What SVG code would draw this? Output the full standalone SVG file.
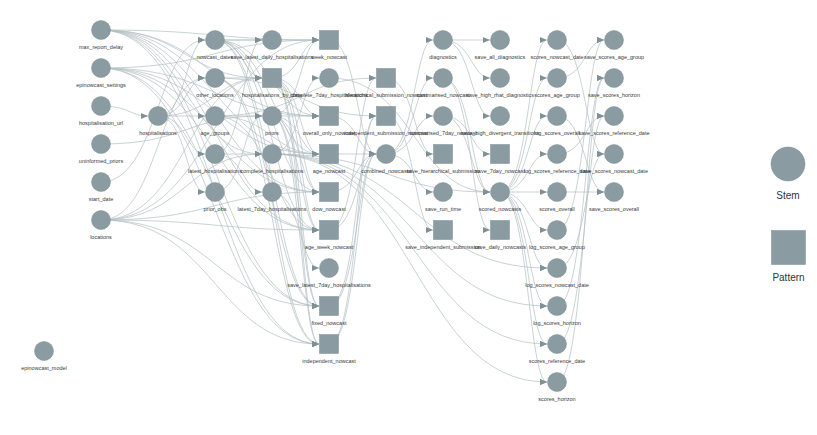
<svg xmlns="http://www.w3.org/2000/svg" width="817" height="435" viewBox="0 0 817 435">
<style>
.e{fill:none;stroke:#b3bec2;stroke-width:0.7;marker-end:url(#ah)}
.n{fill:#8a9ca2;stroke:#7a8c92;stroke-width:0.5}
.t{font-family:"Liberation Sans",Arial,sans-serif;font-size:5.5px;fill:#3a3a3a;text-anchor:middle}
.lt{font-family:"Liberation Sans",Arial,sans-serif;font-size:10px;fill:#333;text-anchor:middle}
</style>
<defs>
<marker id="ah" markerUnits="userSpaceOnUse" markerWidth="7" markerHeight="6" refX="7" refY="3" orient="auto"><path d="M0,0 L7,3 L0,6 z" fill="#7f9196"/></marker>
</defs>
<rect width="817" height="435" fill="#fff"/>
<g id="edges">
<path class="e" d="M101 30C186.5 30 186.5 78 262 78"/>
<path class="e" d="M101 30C186.5 30 186.5 154 262 154"/>
<path class="e" d="M101 30C215 30 215 40 319 40"/>
<path class="e" d="M101 30C215 30 215 116 319 116"/>
<path class="e" d="M101 30C215 30 215 154 319 154"/>
<path class="e" d="M101 30C215 30 215 192 319 192"/>
<path class="e" d="M101 30C215 30 215 230 319 230"/>
<path class="e" d="M101 30C215 30 215 306 319 306"/>
<path class="e" d="M101 30C215 30 215 344 319 344"/>
<path class="e" d="M101 68C215 68 215 40 319 40"/>
<path class="e" d="M101 68C215 68 215 116 319 116"/>
<path class="e" d="M101 68C215 68 215 154 319 154"/>
<path class="e" d="M101 68C215 68 215 192 319 192"/>
<path class="e" d="M101 68C215 68 215 230 319 230"/>
<path class="e" d="M101 68C215 68 215 306 319 306"/>
<path class="e" d="M101 68C215 68 215 344 319 344"/>
<path class="e" d="M101 106C129.5 106 129.5 116 148 116"/>
<path class="e" d="M101 144C186.5 144 186.5 116 262 116"/>
<path class="e" d="M101 182C158 182 158 40 205 40"/>
<path class="e" d="M101 220C158 220 158 78 205 78"/>
<path class="e" d="M101 220C186.5 220 186.5 78 262 78"/>
<path class="e" d="M101 220C186.5 220 186.5 154 262 154"/>
<path class="e" d="M101 220C215 220 215 40 319 40"/>
<path class="e" d="M101 220C215 220 215 192 319 192"/>
<path class="e" d="M101 220C215 220 215 230 319 230"/>
<path class="e" d="M101 220C215 220 215 306 319 306"/>
<path class="e" d="M101 220C215 220 215 344 319 344"/>
<path class="e" d="M158 116C186.5 116 186.5 40 205 40"/>
<path class="e" d="M158 116C186.5 116 186.5 78 205 78"/>
<path class="e" d="M158 116C186.5 116 186.5 116 205 116"/>
<path class="e" d="M158 116C186.5 116 186.5 154 205 154"/>
<path class="e" d="M158 116C186.5 116 186.5 192 205 192"/>
<path class="e" d="M158 116C215 116 215 78 262 78"/>
<path class="e" d="M215 40C243.5 40 243.5 40 262 40"/>
<path class="e" d="M215 40C243.5 40 243.5 78 262 78"/>
<path class="e" d="M215 40C272 40 272 40 319 40"/>
<path class="e" d="M215 40C272 40 272 116 319 116"/>
<path class="e" d="M215 40C272 40 272 154 319 154"/>
<path class="e" d="M215 40C272 40 272 192 319 192"/>
<path class="e" d="M215 40C272 40 272 230 319 230"/>
<path class="e" d="M215 40C272 40 272 306 319 306"/>
<path class="e" d="M215 40C272 40 272 344 319 344"/>
<path class="e" d="M215 78C243.5 78 243.5 78 262 78"/>
<path class="e" d="M215 78C272 78 272 306 319 306"/>
<path class="e" d="M215 78C272 78 272 344 319 344"/>
<path class="e" d="M215 78C300.5 78 300.5 116 376 116"/>
<path class="e" d="M215 116C243.5 116 243.5 116 262 116"/>
<path class="e" d="M215 116C272 116 272 154 319 154"/>
<path class="e" d="M215 116C272 116 272 230 319 230"/>
<path class="e" d="M215 116C300.5 116 300.5 78 376 78"/>
<path class="e" d="M215 154C243.5 154 243.5 40 262 40"/>
<path class="e" d="M215 154C243.5 154 243.5 154 262 154"/>
<path class="e" d="M215 154C243.5 154 243.5 192 262 192"/>
<path class="e" d="M215 192C243.5 192 243.5 116 262 116"/>
<path class="e" d="M272 116C300.5 116 300.5 40 319 40"/>
<path class="e" d="M272 116C300.5 116 300.5 116 319 116"/>
<path class="e" d="M272 116C300.5 116 300.5 154 319 154"/>
<path class="e" d="M272 116C300.5 116 300.5 192 319 192"/>
<path class="e" d="M272 116C300.5 116 300.5 230 319 230"/>
<path class="e" d="M272 116C300.5 116 300.5 306 319 306"/>
<path class="e" d="M272 116C300.5 116 300.5 344 319 344"/>
<path class="e" d="M272 78C300.5 78 300.5 40 319 40"/>
<path class="e" d="M272 78C300.5 78 300.5 116 319 116"/>
<path class="e" d="M272 78C300.5 78 300.5 154 319 154"/>
<path class="e" d="M272 78C300.5 78 300.5 192 319 192"/>
<path class="e" d="M272 78C300.5 78 300.5 230 319 230"/>
<path class="e" d="M272 78C300.5 78 300.5 306 319 306"/>
<path class="e" d="M272 78C300.5 78 300.5 344 319 344"/>
<path class="e" d="M272 154C300.5 154 300.5 78 319 78"/>
<path class="e" d="M272 154C386 154 386 192 490 192"/>
<path class="e" d="M272 154C414.5 154 414.5 268 547 268"/>
<path class="e" d="M272 154C414.5 154 414.5 306 547 306"/>
<path class="e" d="M272 154C414.5 154 414.5 344 547 344"/>
<path class="e" d="M272 154C414.5 154 414.5 382 547 382"/>
<path class="e" d="M329 78C414.5 78 414.5 192 490 192"/>
<path class="e" d="M272 192C300.5 192 300.5 268 319 268"/>
<path class="e" d="M329 40C357.5 40 357.5 154 376 154"/>
<path class="e" d="M329 116C357.5 116 357.5 154 376 154"/>
<path class="e" d="M329 154C357.5 154 357.5 154 376 154"/>
<path class="e" d="M329 192C357.5 192 357.5 154 376 154"/>
<path class="e" d="M329 230C357.5 230 357.5 154 376 154"/>
<path class="e" d="M329 306C357.5 306 357.5 154 376 154"/>
<path class="e" d="M329 344C357.5 344 357.5 154 376 154"/>
<path class="e" d="M329 230C357.5 230 357.5 78 376 78"/>
<path class="e" d="M329 344C357.5 344 357.5 116 376 116"/>
<path class="e" d="M329 306C357.5 306 357.5 116 376 116"/>
<path class="e" d="M386 154C414.5 154 414.5 40 433 40"/>
<path class="e" d="M386 154C414.5 154 414.5 78 433 78"/>
<path class="e" d="M386 154C414.5 154 414.5 116 433 116"/>
<path class="e" d="M386 154C414.5 154 414.5 192 433 192"/>
<path class="e" d="M386 78C414.5 78 414.5 154 433 154"/>
<path class="e" d="M386 116C414.5 116 414.5 230 433 230"/>
<path class="e" d="M443 40C471.5 40 471.5 40 490 40"/>
<path class="e" d="M443 40C471.5 40 471.5 78 490 78"/>
<path class="e" d="M443 40C471.5 40 471.5 116 490 116"/>
<path class="e" d="M443 78C471.5 78 471.5 230 490 230"/>
<path class="e" d="M443 78C471.5 78 471.5 192 490 192"/>
<path class="e" d="M443 116C471.5 116 471.5 154 490 154"/>
<path class="e" d="M443 116C471.5 116 471.5 192 490 192"/>
<path class="e" d="M500 192C528.5 192 528.5 40 547 40"/>
<path class="e" d="M500 192C528.5 192 528.5 78 547 78"/>
<path class="e" d="M500 192C528.5 192 528.5 116 547 116"/>
<path class="e" d="M500 192C528.5 192 528.5 154 547 154"/>
<path class="e" d="M500 192C528.5 192 528.5 192 547 192"/>
<path class="e" d="M500 192C528.5 192 528.5 230 547 230"/>
<path class="e" d="M500 192C528.5 192 528.5 268 547 268"/>
<path class="e" d="M500 192C528.5 192 528.5 306 547 306"/>
<path class="e" d="M500 192C528.5 192 528.5 344 547 344"/>
<path class="e" d="M500 192C528.5 192 528.5 382 547 382"/>
<path class="e" d="M557 40C585.5 40 585.5 154 604 154"/>
<path class="e" d="M557 78C585.5 78 585.5 40 604 40"/>
<path class="e" d="M557 116C585.5 116 585.5 192 604 192"/>
<path class="e" d="M557 154C585.5 154 585.5 116 604 116"/>
<path class="e" d="M557 192C585.5 192 585.5 192 604 192"/>
<path class="e" d="M557 230C585.5 230 585.5 40 604 40"/>
<path class="e" d="M557 268C585.5 268 585.5 154 604 154"/>
<path class="e" d="M557 306C585.5 306 585.5 78 604 78"/>
<path class="e" d="M557 344C585.5 344 585.5 116 604 116"/>
<path class="e" d="M557 382C585.5 382 585.5 78 604 78"/>
</g>
<g id="max_report_delay"><circle class="n" cx="101" cy="30" r="9.5"/><text class="t" x="101" y="48.5">max_report_delay</text></g>
<g id="epinowcast_settings"><circle class="n" cx="101" cy="68" r="9.5"/><text class="t" x="101" y="86.5">epinowcast_settings</text></g>
<g id="hospitalisation_url"><circle class="n" cx="101" cy="106" r="9.5"/><text class="t" x="101" y="124.5">hospitalisation_url</text></g>
<g id="uninformed_priors"><circle class="n" cx="101" cy="144" r="9.5"/><text class="t" x="101" y="162.5">uninformed_priors</text></g>
<g id="start_date"><circle class="n" cx="101" cy="182" r="9.5"/><text class="t" x="101" y="200.5">start_date</text></g>
<g id="locations"><circle class="n" cx="101" cy="220" r="9.5"/><text class="t" x="101" y="238.5">locations</text></g>
<g id="epinowcast_model"><circle class="n" cx="44" cy="351" r="9.5"/><text class="t" x="44" y="369.5">epinowcast_model</text></g>
<g id="hospitalisations"><circle class="n" cx="158" cy="116" r="9.5"/><text class="t" x="158" y="134.5">hospitalisations</text></g>
<g id="nowcast_dates"><circle class="n" cx="215" cy="40" r="9.5"/><text class="t" x="215" y="58.5">nowcast_dates</text></g>
<g id="other_locations"><circle class="n" cx="215" cy="78" r="9.5"/><text class="t" x="215" y="96.5">other_locations</text></g>
<g id="age_groups"><circle class="n" cx="215" cy="116" r="9.5"/><text class="t" x="215" y="134.5">age_groups</text></g>
<g id="latest_hospitalisations"><circle class="n" cx="215" cy="154" r="9.5"/><text class="t" x="215" y="172.5">latest_hospitalisations</text></g>
<g id="prior_obs"><circle class="n" cx="215" cy="192" r="9.5"/><text class="t" x="215" y="210.5">prior_obs</text></g>
<g id="save_latest_daily_hospitalisations"><circle class="n" cx="272" cy="40" r="9.5"/><text class="t" x="272" y="58.5">save_latest_daily_hospitalisations</text></g>
<g id="hospitalisations_by_date"><rect class="n" x="262.5" y="68.5" width="19" height="19"/><text class="t" x="272" y="96.5">hospitalisations_by_date</text></g>
<g id="priors"><circle class="n" cx="272" cy="116" r="9.5"/><text class="t" x="272" y="134.5">priors</text></g>
<g id="complete_hospitalisations"><circle class="n" cx="272" cy="154" r="9.5"/><text class="t" x="272" y="172.5">complete_hospitalisations</text></g>
<g id="latest_7day_hospitalisations"><circle class="n" cx="272" cy="192" r="9.5"/><text class="t" x="272" y="210.5">latest_7day_hospitalisations</text></g>
<g id="week_nowcast"><rect class="n" x="319.5" y="30.5" width="19" height="19"/><text class="t" x="329" y="58.5">week_nowcast</text></g>
<g id="complete_7day_hospitalisations"><circle class="n" cx="329" cy="78" r="9.5"/><text class="t" x="329" y="96.5">complete_7day_hospitalisations</text></g>
<g id="overall_only_nowcast"><rect class="n" x="319.5" y="106.5" width="19" height="19"/><text class="t" x="329" y="134.5">overall_only_nowcast</text></g>
<g id="age_nowcast"><rect class="n" x="319.5" y="144.5" width="19" height="19"/><text class="t" x="329" y="172.5">age_nowcast</text></g>
<g id="dow_nowcast"><rect class="n" x="319.5" y="182.5" width="19" height="19"/><text class="t" x="329" y="210.5">dow_nowcast</text></g>
<g id="age_week_nowcast"><rect class="n" x="319.5" y="220.5" width="19" height="19"/><text class="t" x="329" y="248.5">age_week_nowcast</text></g>
<g id="save_latest_7day_hospitalisations"><circle class="n" cx="329" cy="268" r="9.5"/><text class="t" x="329" y="286.5">save_latest_7day_hospitalisations</text></g>
<g id="fixed_nowcast"><rect class="n" x="319.5" y="296.5" width="19" height="19"/><text class="t" x="329" y="324.5">fixed_nowcast</text></g>
<g id="independent_nowcast"><rect class="n" x="319.5" y="334.5" width="19" height="19"/><text class="t" x="329" y="362.5">independent_nowcast</text></g>
<g id="hierarchical_submission_nowcast"><rect class="n" x="376.5" y="68.5" width="19" height="19"/><text class="t" x="386" y="96.5">hierarchical_submission_nowcast</text></g>
<g id="independent_submission_nowcast"><rect class="n" x="376.5" y="106.5" width="19" height="19"/><text class="t" x="386" y="134.5">independent_submission_nowcast</text></g>
<g id="combined_nowcasts"><circle class="n" cx="386" cy="154" r="9.5"/><text class="t" x="386" y="172.5">combined_nowcasts</text></g>
<g id="diagnostics"><circle class="n" cx="443" cy="40" r="9.5"/><text class="t" x="443" y="58.5">diagnostics</text></g>
<g id="summarised_nowcast"><circle class="n" cx="443" cy="78" r="9.5"/><text class="t" x="443" y="96.5">summarised_nowcast</text></g>
<g id="summarised_7day_nowcast"><circle class="n" cx="443" cy="116" r="9.5"/><text class="t" x="443" y="134.5">summarised_7day_nowcast</text></g>
<g id="save_hierarchical_submission"><rect class="n" x="433.5" y="144.5" width="19" height="19"/><text class="t" x="443" y="172.5">save_hierarchical_submission</text></g>
<g id="save_run_time"><circle class="n" cx="443" cy="192" r="9.5"/><text class="t" x="443" y="210.5">save_run_time</text></g>
<g id="save_independent_submission"><rect class="n" x="433.5" y="220.5" width="19" height="19"/><text class="t" x="443" y="248.5">save_independent_submission</text></g>
<g id="save_all_diagnostics"><circle class="n" cx="500" cy="40" r="9.5"/><text class="t" x="500" y="58.5">save_all_diagnostics</text></g>
<g id="save_high_rhat_diagnostics"><circle class="n" cx="500" cy="78" r="9.5"/><text class="t" x="500" y="96.5">save_high_rhat_diagnostics</text></g>
<g id="save_high_divergent_transitions"><circle class="n" cx="500" cy="116" r="9.5"/><text class="t" x="500" y="134.5">save_high_divergent_transitions</text></g>
<g id="save_7day_nowcast"><rect class="n" x="490.5" y="144.5" width="19" height="19"/><text class="t" x="500" y="172.5">save_7day_nowcast</text></g>
<g id="scored_nowcasts"><circle class="n" cx="500" cy="192" r="9.5"/><text class="t" x="500" y="210.5">scored_nowcasts</text></g>
<g id="save_daily_nowcasts"><rect class="n" x="490.5" y="220.5" width="19" height="19"/><text class="t" x="500" y="248.5">save_daily_nowcasts</text></g>
<g id="scores_nowcast_date"><circle class="n" cx="557" cy="40" r="9.5"/><text class="t" x="557" y="58.5">scores_nowcast_date</text></g>
<g id="scores_age_group"><circle class="n" cx="557" cy="78" r="9.5"/><text class="t" x="557" y="96.5">scores_age_group</text></g>
<g id="log_scores_overall"><circle class="n" cx="557" cy="116" r="9.5"/><text class="t" x="557" y="134.5">log_scores_overall</text></g>
<g id="log_scores_reference_date"><circle class="n" cx="557" cy="154" r="9.5"/><text class="t" x="557" y="172.5">log_scores_reference_date</text></g>
<g id="scores_overall"><circle class="n" cx="557" cy="192" r="9.5"/><text class="t" x="557" y="210.5">scores_overall</text></g>
<g id="log_scores_age_group"><circle class="n" cx="557" cy="230" r="9.5"/><text class="t" x="557" y="248.5">log_scores_age_group</text></g>
<g id="log_scores_nowcast_date"><circle class="n" cx="557" cy="268" r="9.5"/><text class="t" x="557" y="286.5">log_scores_nowcast_date</text></g>
<g id="log_scores_horizon"><circle class="n" cx="557" cy="306" r="9.5"/><text class="t" x="557" y="324.5">log_scores_horizon</text></g>
<g id="scores_reference_date"><circle class="n" cx="557" cy="344" r="9.5"/><text class="t" x="557" y="362.5">scores_reference_date</text></g>
<g id="scores_horizon"><circle class="n" cx="557" cy="382" r="9.5"/><text class="t" x="557" y="400.5">scores_horizon</text></g>
<g id="save_scores_age_group"><circle class="n" cx="614" cy="40" r="9.5"/><text class="t" x="614" y="58.5">save_scores_age_group</text></g>
<g id="save_scores_horizon"><circle class="n" cx="614" cy="78" r="9.5"/><text class="t" x="614" y="96.5">save_scores_horizon</text></g>
<g id="save_scores_reference_date"><circle class="n" cx="614" cy="116" r="9.5"/><text class="t" x="614" y="134.5">save_scores_reference_date</text></g>
<g id="save_scores_nowcast_date"><circle class="n" cx="614" cy="154" r="9.5"/><text class="t" x="614" y="172.5">save_scores_nowcast_date</text></g>
<g id="save_scores_overall"><circle class="n" cx="614" cy="192" r="9.5"/><text class="t" x="614" y="210.5">save_scores_overall</text></g>
<g id="legend_stem"><circle class="n" cx="788" cy="164" r="17"/><text class="lt" x="788" y="199">Stem</text></g>
<g id="legend_pattern"><rect class="n" x="771.5" y="230.5" width="34" height="34"/><text class="lt" x="788.5" y="281">Pattern</text></g>
</svg>
